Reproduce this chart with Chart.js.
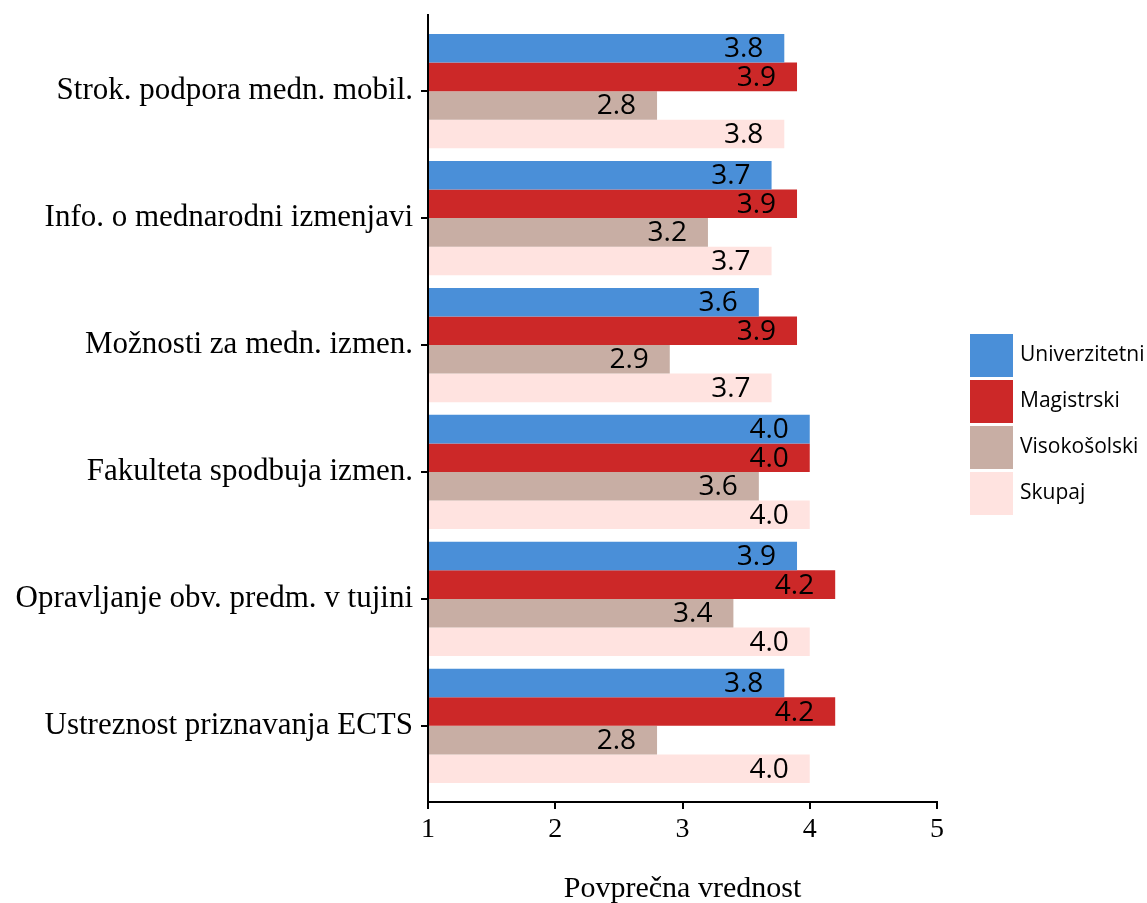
<!DOCTYPE html>
<html>
<head>
<meta charset="utf-8">
<script src="https://cdn.jsdelivr.net/npm/chart.js@4.4.1/dist/chart.umd.min.js"></script>
<style>
  html, body { margin: 0; padding: 0; background: #fff; }
</style>
</head>
<body>
<canvas id="chart" width="1147" height="903"></canvas>
<script>
// kategorije (od zgoraj navzdol)
const categories = [
    'Strok. podpora medn. mobil.',
    'Info. o mednarodni izmenjavi',
    'Možnosti za medn. izmen.',
    'Fakulteta spodbuja izmen.',
    'Opravljanje obv. predm. v tujini',
    'Ustreznost priznavanja ECTS'
];
const seriesNames = ['Univerzitetni', 'Magistrski', 'Visokošolski', 'Skupaj'];
const univerzitetni = [3.8, 3.7, 3.6, 4.0, 3.9, 3.8];
const magistrski = [3.9, 3.9, 3.9, 4.0, 4.2, 4.2];
const visokosolski = [2.8, 3.2, 2.9, 3.6, 3.4, 2.8];
const skupaj = [3.8, 3.7, 3.7, 4.0, 4.0, 4.0];
const xTicks = [1, 2, 3, 4, 5];
const colors = ['#4a8fd8', '#cc2828', '#c8aea4', '#ffe3e0'];

const seriesValues = [univerzitetni, magistrski, visokosolski, skupaj];
const serif = '"Liberation Serif", "DejaVu Serif", serif';
const sans = '"Open Sans", "Noto Sans", sans-serif';

// vrednosti na koncu stolpcev
const valueLabels = {
    id: 'valueLabels',
    afterDatasetsDraw(chart) {
        const ctx = chart.ctx;
        ctx.save();
        ctx.font = '28px ' + sans;
        ctx.fillStyle = '#000';
        ctx.textAlign = 'right';
        ctx.textBaseline = 'middle';
        chart.data.datasets.forEach((ds, i) => {
            chart.getDatasetMeta(i).data.forEach((bar, j) => {
                ctx.fillText(ds.data[j].x.toFixed(1), bar.x - 21, bar.y + 1);
            });
        });
        ctx.restore();
    }
};

// legenda na desni (kvadratki kot v ggplot)
const sideLegend = {
    id: 'sideLegend',
    afterDraw(chart) {
        const { ctx, chartArea } = chart;
        const left = chartArea.right + 33;
        const top = 334, size = 43, step = 46;
        ctx.save();
        ctx.font = '21px ' + sans;
        ctx.textBaseline = 'middle';
        chart.data.datasets.forEach((ds, i) => {
            const y = top + i * step;
            ctx.fillStyle = ds.backgroundColor;
            ctx.fillRect(left, y, size, size);
            ctx.fillStyle = '#000';
            ctx.fillText(ds.label, left + size + 7, y + size / 2);
        });
        ctx.restore();
    }
};

new Chart(document.getElementById('chart'), {
    type: 'bar',
    data: {
        datasets: seriesNames.map((name, i) => ({
            label: name,
            data: seriesValues[i].map((v, j) => ({ x: v, y: j })),
            backgroundColor: colors[i],
            base: 1,
            categoryPercentage: 0.9,
            barPercentage: 1
        }))
    },
    options: {
        indexAxis: 'y',
        responsive: false,
        animation: false,
        devicePixelRatio: 1,
        layout: { padding: { top: 15, right: 210, left: 0, bottom: 0 } },
        plugins: {
            legend: { display: false },
            tooltip: { enabled: false }
        },
        scales: {
            x: {
                type: 'linear',
                min: xTicks[0],
                max: xTicks[xTicks.length - 1],
                afterBuildTicks: (scale) => { scale.ticks = xTicks.map(v => ({ value: v })); },
                ticks: { color: '#000', font: { family: serif, size: 28 }, padding: 4 },
                grid: { drawOnChartArea: false, drawTicks: true, tickLength: 7, color: '#000', lineWidth: 2 },
                border: { color: '#000', width: 2 },
                title: {
                    display: true,
                    text: 'Povprečna vrednost',
                    color: '#000',
                    font: { family: serif, size: 30 },
                    padding: { top: 4, bottom: -4 }
                },
                afterFit: (scale) => { scale.height = 101; }
            },
            y: {
                type: 'linear',
                reverse: true,
                offset: false,
                min: -0.6,
                max: categories.length - 0.4,
                ticks: {
                    stepSize: 1,
                    includeBounds: false,
                    color: '#000',
                    font: { family: serif, size: 31 },
                    padding: 8,
                    callback: (v) => categories[v]
                },
                grid: { offset: false, drawOnChartArea: false, drawTicks: true, tickLength: 7, color: '#000', lineWidth: 2 },
                border: { color: '#000', width: 2 },
                afterFit: (scale) => {
                    scale.width = 428;
                    scale.paddingTop = 0;
                    scale.paddingBottom = 0;
                }
            }
        }
    },
    plugins: [valueLabels, sideLegend]
});
</script>
</body>
</html>
